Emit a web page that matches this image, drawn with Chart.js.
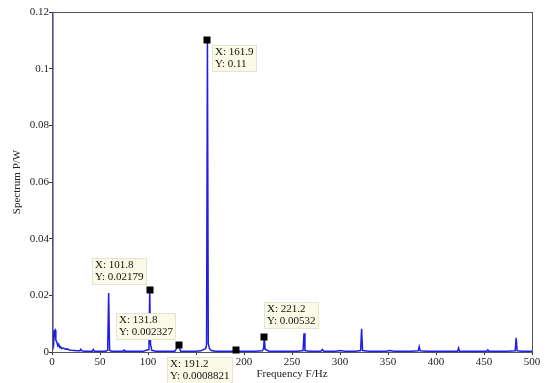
<!DOCTYPE html>
<html>
<head>
<meta charset="utf-8">
<script src="https://cdn.jsdelivr.net/npm/chart.js@4/dist/chart.umd.min.js"></script>
<style>
  html, body { margin: 0; padding: 0; background: #fff; }
  #wrap { width: 547px; height: 383px; }
</style>
</head>
<body>
<div id="wrap"><canvas id="spectrum"></canvas></div>
<script>
// Spectrum samples: frequency (Hz) and power (W)
const freq = [
  0, 0.8, 1.6, 2.5, 3.2, 4, 5, 6, 7, 8, 9, 10, 12, 14, 16, 18, 20, 23, 26, 29,
  30, 31, 34, 38, 42, 43, 44, 48, 52, 56, 58, 59, 60, 62, 66, 70, 74, 75, 76, 80,
  85, 90, 95, 100, 101, 101.8, 102.6, 104, 108, 112, 118, 124, 128, 131.8, 134, 140,
  146, 150, 155, 160, 161, 161.9, 162.8, 164, 166, 170, 176, 182, 188, 191.2, 195, 200,
  206, 212, 219, 220.4, 221.2, 222, 226, 232, 238, 244, 250, 256, 261.5, 262.5, 263.5, 268,
  274, 280, 281.5, 283, 290, 296, 300, 305, 310, 316, 321.5, 322.5, 323.5, 330, 336, 342,
  348, 352, 356, 362, 368, 374, 381.5, 382.5, 383.5, 390, 396, 402, 408, 414, 422.5, 423.5,
  424.5, 432, 438, 444, 450, 453, 454, 455, 462, 468, 474, 482.5, 483.5, 484.5, 490, 495, 500
];
const power = [
  0.125, 0.004, 0.0025, 0.0075, 0.0078, 0.0042, 0.0035, 0.0022, 0.0028, 0.0016, 0.0019, 0.0012, 0.0014, 0.0010, 0.0011, 0.0007, 0.0006, 0.0005, 0.0004, 0.0004,
  0.0010, 0.0004, 0.0003, 0.0003, 0.0003, 0.0009, 0.0003, 0.0003, 0.0003, 0.0003, 0.0006, 0.0208, 0.0006, 0.0003, 0.0003, 0.0003, 0.0003, 0.0007, 0.0003, 0.0003,
  0.0003, 0.0003, 0.0003, 0.0008, 0.0030, 0.02179, 0.0028, 0.0006, 0.0003, 0.0003, 0.0003, 0.0003, 0.0003, 0.002327, 0.0003, 0.0003,
  0.0003, 0.0003, 0.0004, 0.0012, 0.0025, 0.11, 0.0030, 0.0012, 0.0005, 0.0003, 0.0003, 0.0003, 0.0003, 0.0008821, 0.0003, 0.0003,
  0.0003, 0.0003, 0.0004, 0.0012, 0.00532, 0.0010, 0.0003, 0.0003, 0.0003, 0.0003, 0.0003, 0.0003, 0.0005, 0.0066, 0.0005, 0.0003,
  0.0003, 0.0003, 0.0009, 0.0003, 0.0003, 0.0003, 0.0005, 0.0003, 0.0003, 0.0003, 0.0005, 0.0082, 0.0005, 0.0003, 0.0003, 0.0003,
  0.0003, 0.0005, 0.0003, 0.0003, 0.0003, 0.0003, 0.0004, 0.0019, 0.0004, 0.0003, 0.0003, 0.0003, 0.0003, 0.0003, 0.0003, 0.0014,
  0.0003, 0.0003, 0.0003, 0.0003, 0.0003, 0.0003, 0.0008, 0.0003, 0.0003, 0.0003, 0.0003, 0.0004, 0.0050, 0.0004, 0.0003, 0.0003, 0.0003
];

// Data tips
const tipX = [161.9, 101.8, 131.8, 191.2, 221.2];
const tipY = [0.11, 0.02179, 0.002327, 0.0008821, 0.00532];
const tipLabelY = ['0.11', '0.02179', '0.002327', '0.0008821', '0.00532'];

const FONT = '"Liberation Serif", "Times New Roman", serif';

// where each tip box sits relative to its marker
const tipAnchor = ['br', 'tl', 'tl', 'bl', 'tr'];

const frameAndTips = {
  id: 'frameAndTips',
  afterDatasetsDraw(chart) {
    const { ctx, chartArea: a, scales: { x, y } } = chart;
    ctx.save();
    // axes box
    ctx.strokeStyle = '#555';
    ctx.lineWidth = 1;
    ctx.strokeRect(a.left + 0.5, a.top + 0.5, a.right - a.left, a.bottom - a.top);

    ctx.font = '11px ' + FONT;
    ctx.textBaseline = 'middle';
    tipX.forEach((fx, i) => {
      const mx = Math.round(x.getPixelForValue(fx));
      const my = Math.round(y.getPixelForValue(tipY[i]));
      const lines = ['X: ' + fx, 'Y: ' + tipLabelY[i]];
      const w = Math.ceil(Math.max(...lines.map(t => ctx.measureText(t).width))) + 6;
      const h = 27;
      let bx, by;
      switch (tipAnchor[i]) {
        case 'br': bx = mx + 5; by = my + 5; break;
        case 'tl': bx = mx - 3 - w; by = my - 5 - h; break;
        case 'bl': bx = mx - 3 - w; by = my + 7; break;
        case 'tr': bx = mx; by = my - 8 - h; break;
      }
      ctx.fillStyle = '#fafae6';
      ctx.fillRect(bx, by, w, h);
      ctx.strokeStyle = '#e4e4d4';
      ctx.strokeRect(bx + 0.5, by + 0.5, w - 1, h - 1);
      ctx.fillStyle = '#111';
      ctx.fillText(lines[0], bx + 3, by + 7.5);
      ctx.fillText(lines[1], bx + 3, by + 19.5);
      ctx.fillStyle = '#000';
      ctx.fillRect(mx - 3.5, my - 3.5, 7, 7);
    });
    ctx.restore();
  }
};

new Chart(document.getElementById('spectrum'), {
  type: 'scatter',
  data: {
    datasets: [{
      data: freq.map((f, i) => ({ x: f, y: power[i] })),
      showLine: true,
      borderColor: '#1e1ee6',
      borderWidth: 1.5,
      pointRadius: 0,
      tension: 0
    }]
  },
  options: {
    responsive: true,
    maintainAspectRatio: false,
    animation: false,
    layout: { padding: { top: 12, right: 15, left: 0, bottom: 0 } },
    plugins: { legend: { display: false }, tooltip: { enabled: false } },
    scales: {
      x: {
        type: 'linear',
        min: 0, max: 500,
        afterFit(s) { s.height = 31; },
        grid: { drawOnChartArea: false, tickLength: 3, color: '#333' },
        border: { display: false },
        ticks: { stepSize: 50, padding: 1, color: '#222', font: { family: FONT, size: 11 }, maxRotation: 0 },
        title: { display: true, text: 'Frequency F/Hz', color: '#222', font: { family: FONT, size: 11 }, padding: { top: 0, bottom: 2 } }
      },
      y: {
        min: 0, max: 0.12,
        afterFit(s) { s.width = 52; },
        grid: { drawOnChartArea: false, tickLength: 3, color: '#333' },
        border: { display: false },
        ticks: {
          stepSize: 0.02, padding: 0, color: '#222', font: { family: FONT, size: 11 },
          callback: v => String(Number(v.toFixed(2)))
        },
        title: { display: true, text: 'Spectrum P/W', color: '#222', font: { family: FONT, size: 11 }, padding: { top: 11, bottom: 4 } }
      }
    }
  },
  plugins: [frameAndTips]
});
</script>
</body>
</html>
